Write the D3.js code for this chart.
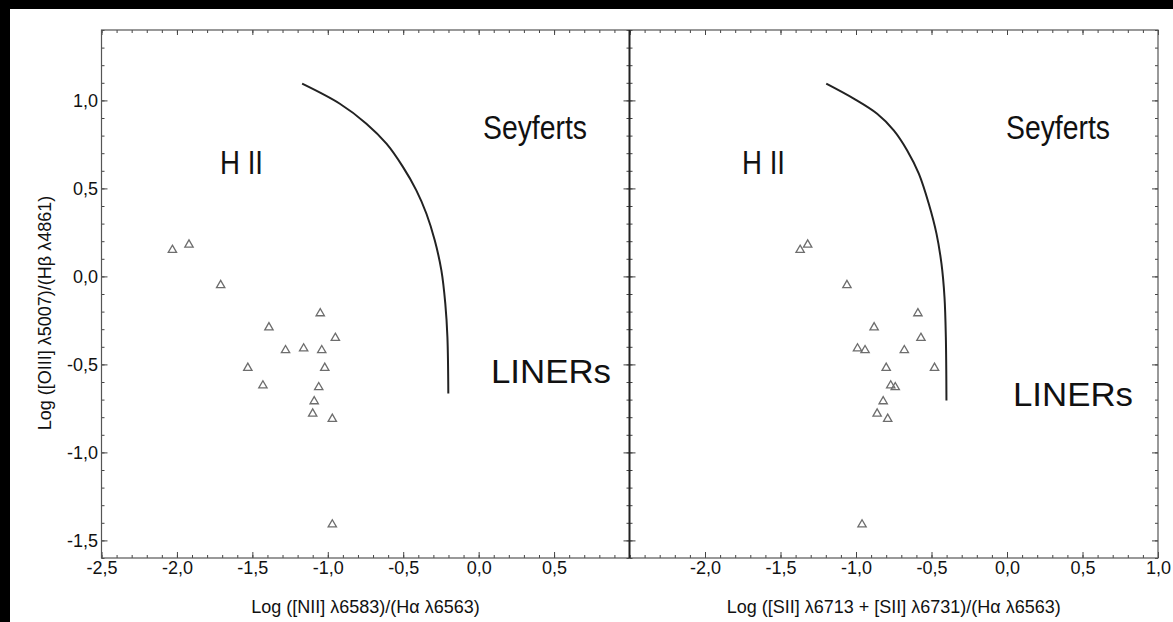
<!DOCTYPE html>
<html>
<head>
<meta charset="utf-8">
<script src="https://cdn.jsdelivr.net/npm/d3@7"></script>
<style>
  html, body { margin: 0; padding: 0; background: #000; }
  svg { display: block; }
  text { font-family: "Liberation Sans", Arial, sans-serif; fill: #111; }
</style>
</head>
<body>
<svg id="chart" width="1173" height="622"></svg>
<script>
// Emission-line ratios of the sample (one entry per galaxy)
const logOIIIHb = [0.15, 0.18, -0.05, -0.21, -0.29, -0.35, -0.41, -0.42, -0.42, -0.52, -0.52, -0.62, -0.63, -0.71, -0.78, -0.81, -1.41];
const logNIIHa  = [-2.03, -1.92, -1.71, -1.05, -1.39, -0.95, -1.16, -1.28, -1.04, -1.53, -1.02, -1.43, -1.06, -1.09, -1.10, -0.97, -0.97];
const logSIIHa  = [-1.37, -1.32, -1.06, -0.59, -0.88, -0.57, -0.99, -0.94, -0.68, -0.80, -0.48, -0.77, -0.74, -0.82, -0.86, -0.79, -0.96];

// Dividing curves between H II regions and AGN
const borderNIIx = [-1.17, -0.92, -0.744, -0.611, -0.501, -0.413, -0.346, -0.291, -0.247, -0.221, -0.207, -0.201];
const borderNIIy = [1.095, 0.981, 0.868, 0.754, 0.621, 0.489, 0.356, 0.205, 0.034, -0.155, -0.345, -0.666];
const borderSIIx = [-1.197, -1.015, -0.860, -0.750, -0.661, -0.584, -0.518, -0.467, -0.434, -0.414, -0.405, -0.401];
const borderSIIy = [1.095, 1.010, 0.924, 0.830, 0.716, 0.584, 0.413, 0.243, 0.072, -0.117, -0.345, -0.705];

// Tick values
const xTicksLeft  = [-2.5, -2.0, -1.5, -1.0, -0.5, 0.0, 0.5];
const xTicksRight = [-2.0, -1.5, -1.0, -0.5, 0.0, 0.5, 1.0];
const yTicks      = [-1.5, -1.0, -0.5, 0.0, 0.5, 1.0];

const regionLabels = ["H II", "Seyferts", "LINERs"];
const regionWidths = [43, 104, 120];

const svg = d3.select("#chart");

// white page area inside the black border
svg.append("rect").attr("x", 10).attr("y", 9).attr("width", 1163).attr("height", 613).attr("fill", "#fff");

const plotTop = 30, plotBottom = 558;
const leftX0 = 101.5, midX = 629.5, rightX1 = 1158;

const y = d3.scaleLinear().domain([-1.6, 1.4]).range([plotBottom, plotTop]);
const xL = d3.scaleLinear().domain([-2.5, 1.0]).range([leftX0, midX]);
const xR = d3.scaleLinear().domain([-2.5, 1.0]).range([midX, rightX1]);

const fmt = d => (d < 0 ? "-" : "") + Math.abs(d).toFixed(1).replace(".", ",");
const minorX = d3.range(-25, 11).map(v => v / 10);
const minorY = d3.range(-16, 15).map(v => v / 10);

function styleAxis(g) {
  g.select(".domain").remove();
  g.selectAll(".tick line").attr("stroke", "#444").attr("stroke-width", 1);
  g.selectAll(".tick text").attr("font-size", 18).attr("fill", "#111")
    .attr("font-family", "'Liberation Sans', Arial, sans-serif");
}

function panel(x, xTicks, opts) {
  const g = svg.append("g");
  // minor ticks, inward on all four sides
  g.append("g").attr("transform", `translate(0,${plotBottom})`)
    .call(d3.axisBottom(x).tickValues(minorX).tickSize(-3).tickFormat("")).call(styleAxis);
  g.append("g").attr("transform", `translate(0,${plotTop})`)
    .call(d3.axisTop(x).tickValues(minorX).tickSize(-3).tickFormat("")).call(styleAxis);
  g.append("g").attr("transform", `translate(${x.range()[0]},0)`)
    .call(d3.axisLeft(y).tickValues(minorY).tickSize(-3).tickFormat("")).call(styleAxis);
  g.append("g").attr("transform", `translate(${x.range()[1]},0)`)
    .call(d3.axisRight(y).tickValues(minorY).tickSize(-3).tickFormat("")).call(styleAxis);
  // major ticks with labels
  g.append("g").attr("transform", `translate(0,${plotBottom})`)
    .call(d3.axisBottom(x).tickValues(xTicks).tickSize(-6).tickPadding(3).tickFormat(fmt)).call(styleAxis);
  g.append("g").attr("transform", `translate(0,${plotTop})`)
    .call(d3.axisTop(x).tickValues(d3.range(-5, 3).map(v => v / 2)).tickSize(-5).tickFormat("")).call(styleAxis);
  g.append("g").attr("transform", `translate(${x.range()[0]},0)`)
    .call(d3.axisLeft(y).tickValues(yTicks).tickSize(-6).tickPadding(3.5).tickFormat(opts.yLabels ? fmt : "")).call(styleAxis);
  g.append("g").attr("transform", `translate(${x.range()[1]},0)`)
    .call(d3.axisRight(y).tickValues(yTicks).tickSize(-6).tickFormat("")).call(styleAxis);

  // dividing curve
  const pts = opts.cx.map((v, i) => [v, opts.cy[i]]);
  g.append("path").datum(pts)
    .attr("d", d3.line().x(d => x(d[0])).y(d => y(d[1])).curve(d3.curveCatmullRom.alpha(0.5)))
    .attr("fill", "none").attr("stroke", "#222").attr("stroke-width", 2);

  // galaxies
  const tri = d3.symbol().type(d3.symbolTriangle).size(30);
  g.selectAll("path.pt").data(opts.xs.map((v, i) => [v, logOIIIHb[i]])).join("path")
    .attr("class", "pt")
    .attr("d", tri)
    .attr("transform", d => `translate(${x(d[0])},${y(d[1])})`)
    .attr("fill", "none").attr("stroke", "#6d6d6d").attr("stroke-width", 1.3);

  // region names
  opts.labels.forEach((p, i) => {
    g.append("text").text(regionLabels[i])
      .attr("x", p[0]).attr("y", p[1])
      .attr("textLength", regionWidths[i]).attr("lengthAdjust", "spacingAndGlyphs")
      .attr("font-size", 34).attr("fill", "#111");
  });

  // axis title
  g.append("text").text(opts.title)
    .attr("x", (x.range()[0] + x.range()[1]) / 2).attr("y", 613)
    .attr("text-anchor", "middle").attr("font-size", 18);
  return g;
}

panel(xL, xTicksLeft, {
  yLabels: true, xs: logNIIHa, cx: borderNIIx, cy: borderNIIy,
  labels: [[220, 174], [483, 139], [491, 383]],
  title: "Log ([NII] \u03bb6583)/(H\u03b1 \u03bb6563)"
});
panel(xR, xTicksRight, {
  yLabels: false, xs: logSIIHa, cx: borderSIIx, cy: borderSIIy,
  labels: [[742, 174], [1006, 139], [1013, 406]],
  title: "Log ([SII] \u03bb6713 + [SII] \u03bb6731)/(H\u03b1 \u03bb6563)"
});

// frame
svg.append("rect").attr("x", leftX0).attr("y", plotTop)
  .attr("width", rightX1 - leftX0).attr("height", plotBottom - plotTop)
  .attr("fill", "none").attr("stroke", "#555").attr("stroke-width", 1.2);
svg.append("line").attr("x1", midX).attr("x2", midX).attr("y1", plotTop).attr("y2", plotBottom)
  .attr("stroke", "#222").attr("stroke-width", 2);

// y-axis title
svg.append("text").text("Log ([OIII] \u03bb5007)/(H\u03b2 \u03bb4861)")
  .attr("transform", "translate(51,313) rotate(-90)")
  .attr("text-anchor", "middle").attr("font-size", 18);
</script>
</body>
</html>
